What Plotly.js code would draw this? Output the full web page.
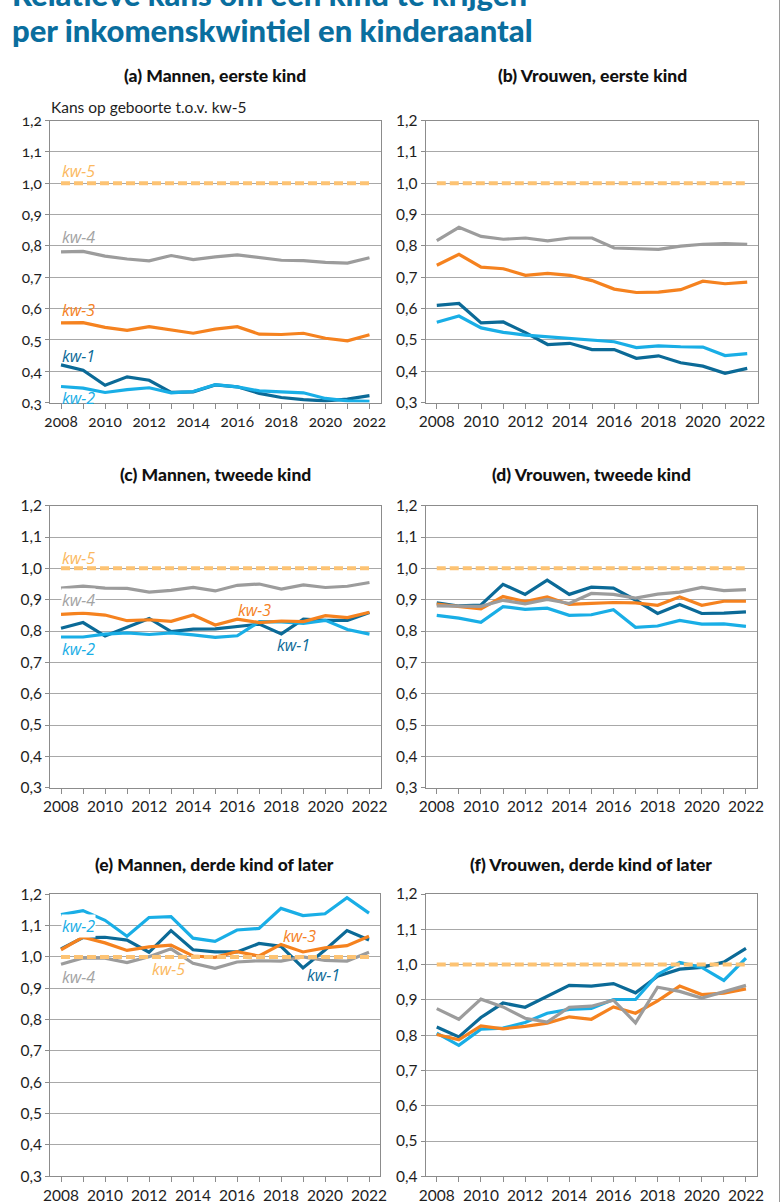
<!DOCTYPE html>
<html>
<head>
<meta charset="utf-8">
<script src="https://cdn.plot.ly/plotly-3.0.1.min.js"></script>
<style>
  html, body { margin: 0; padding: 0; background: #fff; }
  #chart { width: 781px; height: 1202px; }
  .xtick text, .ytick text { font-variant-numeric: oldstyle-nums; font-feature-settings: "onum" 1; }
</style>
</head>
<body>
<div id="chart"></div>
<script>
// ---------- DATA ----------
const years = [2008, 2009, 2010, 2011, 2012, 2013, 2014, 2015, 2016, 2017, 2018, 2019, 2020, 2021, 2022];
const xTickText = ['2008', '', '2010', '', '2012', '', '2014', '', '2016', '', '2018', '', '2020', '', '2022'];
const seriesNames = ['kw-1', 'kw-2', 'kw-3', 'kw-4', 'kw-5'];
const panelTitles = ['(a) Mannen, eerste kind', '(b) Vrouwen, eerste kind', '(c) Mannen, tweede kind',
                     '(d) Vrouwen, tweede kind', '(e) Mannen, derde kind of later', '(f) Vrouwen, derde kind of later'];
const yAxisTitle = 'Kans op geboorte t.o.v. kw-5';
const mainTitle1 = 'Relatieve kans om een kind te krijgen';
const mainTitle2 = 'per inkomenskwintiel en kinderaantal';

// reference quintile kw-5 (= 1,0)
const kw5 = [1.0, 1.0, 1.0, 1.0, 1.0, 1.0, 1.0, 1.0, 1.0, 1.0, 1.0, 1.0, 1.0, 1.0, 1.0];

// (a) Mannen, eerste kind
const a_kw1 = [0.420, 0.403, 0.355, 0.382, 0.371, 0.332, 0.334, 0.356, 0.350, 0.329, 0.316, 0.309, 0.305, 0.311, 0.322];
const a_kw2 = [0.351, 0.346, 0.332, 0.341, 0.347, 0.331, 0.335, 0.357, 0.350, 0.337, 0.334, 0.331, 0.313, 0.305, 0.304];
const a_kw3 = [0.554, 0.555, 0.540, 0.530, 0.542, 0.532, 0.521, 0.534, 0.542, 0.518, 0.517, 0.521, 0.505, 0.497, 0.516];
const a_kw4 = [0.781, 0.782, 0.767, 0.758, 0.752, 0.769, 0.756, 0.765, 0.771, 0.763, 0.754, 0.753, 0.747, 0.745, 0.762];

// (b) Vrouwen, eerste kind
const b_kw1 = [0.610, 0.616, 0.554, 0.557, 0.523, 0.485, 0.489, 0.469, 0.469, 0.441, 0.449, 0.427, 0.416, 0.393, 0.409];
const b_kw2 = [0.556, 0.576, 0.538, 0.524, 0.515, 0.510, 0.503, 0.498, 0.494, 0.475, 0.481, 0.478, 0.477, 0.450, 0.456];
const b_kw3 = [0.738, 0.773, 0.732, 0.727, 0.706, 0.712, 0.706, 0.689, 0.662, 0.651, 0.652, 0.660, 0.687, 0.679, 0.684];
const b_kw4 = [0.817, 0.859, 0.830, 0.821, 0.825, 0.816, 0.825, 0.825, 0.793, 0.790, 0.789, 0.799, 0.805, 0.807, 0.805];

// (c) Mannen, tweede kind
const c_kw1 = [0.809, 0.827, 0.784, 0.811, 0.840, 0.798, 0.806, 0.807, 0.814, 0.822, 0.791, 0.838, 0.834, 0.834, 0.859];
const c_kw2 = [0.781, 0.781, 0.790, 0.794, 0.789, 0.794, 0.788, 0.780, 0.785, 0.830, 0.829, 0.824, 0.834, 0.805, 0.790];
const c_kw3 = [0.853, 0.857, 0.851, 0.833, 0.836, 0.831, 0.851, 0.819, 0.838, 0.827, 0.832, 0.830, 0.849, 0.843, 0.860];
const c_kw4 = [0.937, 0.943, 0.937, 0.936, 0.924, 0.930, 0.939, 0.928, 0.946, 0.950, 0.934, 0.947, 0.939, 0.943, 0.955];

// (d) Vrouwen, tweede kind
const d_kw1 = [0.890, 0.880, 0.883, 0.949, 0.917, 0.962, 0.917, 0.940, 0.937, 0.899, 0.856, 0.885, 0.856, 0.857, 0.861];
const d_kw2 = [0.850, 0.841, 0.828, 0.878, 0.869, 0.873, 0.850, 0.852, 0.868, 0.812, 0.816, 0.834, 0.822, 0.823, 0.815];
const d_kw3 = [0.886, 0.878, 0.871, 0.910, 0.894, 0.909, 0.885, 0.888, 0.891, 0.890, 0.882, 0.909, 0.882, 0.895, 0.895];
const d_kw4 = [0.880, 0.880, 0.879, 0.898, 0.887, 0.901, 0.888, 0.920, 0.917, 0.905, 0.918, 0.924, 0.939, 0.929, 0.932];

// (e) Mannen, derde kind of later
const e_kw1 = [1.026, 1.062, 1.063, 1.054, 1.015, 1.084, 1.023, 1.016, 1.016, 1.043, 1.034, 0.965, 1.022, 1.084, 1.054];
const e_kw2 = [1.135, 1.148, 1.117, 1.066, 1.126, 1.129, 1.060, 1.050, 1.086, 1.091, 1.155, 1.132, 1.138, 1.189, 1.140];
const e_kw3 = [1.023, 1.063, 1.045, 1.021, 1.032, 1.038, 1.003, 0.999, 1.017, 1.003, 1.040, 1.016, 1.029, 1.036, 1.066];
const e_kw4 = [0.977, 0.997, 0.996, 0.982, 1.001, 1.026, 0.980, 0.964, 0.984, 0.988, 0.987, 1.000, 0.989, 0.987, 1.015];

// (f) Vrouwen, derde kind of later
const f_kw1 = [0.823, 0.795, 0.850, 0.891, 0.879, 0.911, 0.941, 0.939, 0.946, 0.920, 0.967, 0.987, 0.992, 1.007, 1.046];
const f_kw2 = [0.806, 0.771, 0.817, 0.820, 0.836, 0.862, 0.873, 0.876, 0.901, 0.901, 0.972, 1.006, 0.992, 0.955, 1.018];
const f_kw3 = [0.802, 0.787, 0.826, 0.818, 0.825, 0.834, 0.852, 0.845, 0.880, 0.862, 0.897, 0.939, 0.915, 0.919, 0.931];
const f_kw4 = [0.875, 0.845, 0.902, 0.880, 0.848, 0.837, 0.879, 0.882, 0.899, 0.835, 0.936, 0.924, 0.905, 0.923, 0.941];

const yRanges = [[0.3, 1.2], [0.3, 1.2], [0.3, 1.2], [0.3, 1.2], [0.3, 1.2], [0.4, 1.2]];

// ---------- STYLE ----------
const W = 781, H = 1202;
const colors = { 'kw-1': '#0b6a97', 'kw-2': '#19aee6', 'kw-3': '#f5821f', 'kw-4': '#9c9c9c', 'kw-5': '#fdc373' };
const labelColors = { 'kw-1': '#0b6a97', 'kw-2': '#19aee6', 'kw-3': '#f5821f', 'kw-4': '#a3a3a3', 'kw-5': '#fbb95f' };

// plot area pixel boxes [left, right, top, bottom]
const boxes = [
  [50, 380.5, 120.5, 402.5],
  [425.7, 758.3, 120.5, 402.5],
  [50, 380.5, 505.7, 787.7],
  [425.7, 757, 505.7, 787.7],
  [50, 380, 894.3, 1176.3],
  [425.7, 757, 894, 1176.3]
];
const titleY = [76, 76, 474, 474, 864, 864];

const panelData = [
  [a_kw1, a_kw2, a_kw3, a_kw4, kw5],
  [b_kw1, b_kw2, b_kw3, b_kw4, kw5],
  [c_kw1, c_kw2, c_kw3, c_kw4, kw5],
  [d_kw1, d_kw2, d_kw3, d_kw4, kw5],
  [e_kw1, e_kw2, e_kw3, e_kw4, kw5],
  [f_kw1, f_kw2, f_kw3, f_kw4, kw5]
];

const px = v => v / W;
const py = v => 1 - v / H;

const traces = [];
const layout = {
  width: W, height: H,
  margin: { l: 0, r: 0, t: 0, b: 0 },
  paper_bgcolor: '#ffffff', plot_bgcolor: '#ffffff',
  showlegend: false,
  separators: ',.',
  font: { family: 'Lato, "Open Sans", sans-serif', color: '#1e1e1e' },
  annotations: [],
  shapes: [
    { type: 'line', xref: 'paper', yref: 'paper', x0: px(779.5), x1: px(779.5), y0: 0, y1: 1,
      line: { color: '#9a9a9a', width: 1 } }
  ]
};

const tickFont = { family: 'Lato, "Open Sans", sans-serif', size: 15.5, color: '#1e1e1e' };

panelData.forEach((series, i) => {
  const n = i + 1;
  const xa = n === 1 ? 'x' : 'x' + n;
  const ya = n === 1 ? 'y' : 'y' + n;
  const xKey = n === 1 ? 'xaxis' : 'xaxis' + n;
  const yKey = n === 1 ? 'yaxis' : 'yaxis' + n;
  const b = boxes[i];
  layout[xKey] = {
    domain: [px(b[0]), px(b[1])],
    anchor: ya,
    range: [2007.5, 2022.5],
    tickmode: 'array', tickvals: years, ticktext: xTickText,
    ticks: 'outside', ticklen: 5, tickwidth: 1, tickcolor: '#8c8c8c',
    showgrid: false, zeroline: false,
    showline: true, mirror: true, linecolor: '#8c8c8c', linewidth: 1,
    tickfont: tickFont, fixedrange: true
  };
  layout[yKey] = {
    domain: [py(b[3]), py(b[2])],
    anchor: xa,
    range: yRanges[i],
    dtick: 0.1, tick0: 0, tickformat: '.1f',
    ticks: 'outside', ticklen: 4, tickwidth: 1, tickcolor: '#8c8c8c',
    showgrid: true, gridcolor: '#a8a8a8', gridwidth: 1,
    zeroline: false,
    showline: true, mirror: true, linecolor: '#8c8c8c', linewidth: 1,
    tickfont: tickFont, fixedrange: true
  };
  series.forEach((vals, k) => {
    const name = seriesNames[k];
    const isRef = name === 'kw-5';
    traces.push({
      type: 'scatter', mode: 'lines', name: name,
      x: years, y: vals, xaxis: xa, yaxis: ya,
      line: isRef ? { color: colors[name], width: 4, dash: '9px,4px' }
                  : { color: colors[name], width: 3.2 },
      cliponaxis: false,
      hoverinfo: 'skip'
    });
  });
  layout.annotations.push({
    xref: 'paper', yref: 'paper', x: px((b[0] + b[1]) / 2), y: py(titleY[i]),
    xanchor: 'center', yanchor: 'middle', showarrow: false,
    text: panelTitles[i],
    font: { family: 'Lato, "Open Sans", sans-serif', size: 17.5, weight: 900, color: '#111111' }
  });
});

// y-axis title (above panel a)
layout.annotations.push({
  xref: 'paper', yref: 'paper', x: px(49), y: py(107), xanchor: 'left', yanchor: 'middle',
  showarrow: false, text: yAxisTitle,
  font: { family: 'Lato, "Open Sans", sans-serif', size: 15.5, color: '#1e1e1e' }
});

// main title (first line partly outside the page)
layout.annotations.push({
  xref: 'paper', yref: 'paper', x: px(10), y: py(-6), xanchor: 'left', yanchor: 'middle',
  showarrow: false, text: mainTitle1,
  font: { family: 'Lato, "Open Sans", sans-serif', size: 31, weight: 900, color: '#0a6e9e' }
});
layout.annotations.push({
  xref: 'paper', yref: 'paper', x: px(10), y: py(30), xanchor: 'left', yanchor: 'middle',
  showarrow: false, text: mainTitle2,
  font: { family: 'Lato, "Open Sans", sans-serif', size: 31, weight: 900, color: '#0a6e9e' }
});

// in-chart series labels: [name, left px, center y px, white background]
const seriesLabels = [
  ['kw-5', 61, 171, false], ['kw-4', 61, 237, false], ['kw-3', 61, 310, false],
  ['kw-1', 61, 356, false], ['kw-2', 61, 398, false],
  ['kw-5', 61, 558, false], ['kw-4', 61, 600, true], ['kw-3', 237, 610, false],
  ['kw-2', 61, 649, false], ['kw-1', 276, 645, false],
  ['kw-2', 61, 926, true], ['kw-3', 282, 936, false], ['kw-5', 151, 969, false],
  ['kw-4', 61, 977, false], ['kw-1', 306, 975, false]
];
seriesLabels.forEach(l => {
  layout.annotations.push({
    xref: 'paper', yref: 'paper', x: px(l[1]), y: py(l[2]), xanchor: 'left', yanchor: 'middle',
    showarrow: false, text: l[0], borderpad: 0,
    bgcolor: l[3] ? '#ffffff' : 'rgba(0,0,0,0)',
    font: { family: '"Open Sans", Lato, sans-serif', size: 16, style: 'italic', color: labelColors[l[0]] }
  });
});

Plotly.newPlot('chart', traces, layout, { displayModeBar: false, staticPlot: true });
</script>
</body>
</html>
